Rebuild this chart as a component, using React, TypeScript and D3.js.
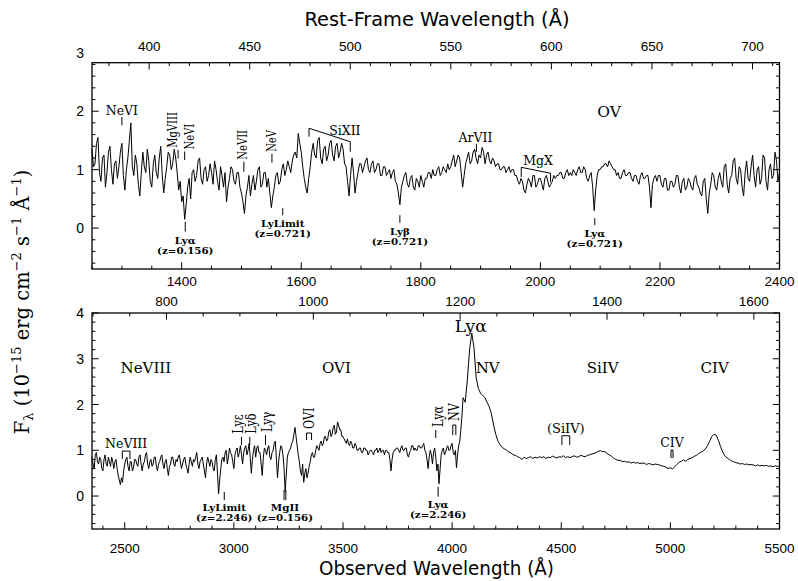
import React from "react";
import * as d3 from "d3";

// ---------- DATA ----------
const TOP_START = 1250;
const TOP_STEP = 2.5;
const topFlux = [
  1.35, 1.05, 1.10, 1.45, 1.55, 0.95, 0.80, 1.20, 1.25, 0.70, 0.95, 1.30, 1.40, 1.00, 0.75, 1.10, 1.15, 0.85, 1.05, 1.30,
  1.45, 0.90, 0.65, 1.00, 1.20, 1.50, 1.80, 1.05, 0.90, 1.25, 1.10, 0.75, 0.55, 0.95, 1.30, 1.05, 0.95, 1.35, 1.15, 0.80,
  0.70, 1.10, 1.25, 0.95, 0.85, 1.20, 1.40, 0.90, 0.60, 0.85, 1.05, 1.30, 1.25, 1.00, 1.10, 1.35, 1.20, 0.95, 0.65, 0.80,
  0.45, 0.55, 0.15, 0.40, 0.70, 0.85, 0.50, 0.95, 1.00, 0.80, 0.90, 1.15, 1.20, 0.85, 0.75, 1.00, 1.05, 0.80, 0.90, 1.10,
  0.95, 0.75, 1.15, 1.00, 0.80, 0.65, 1.05, 0.90, 0.70, 0.95, 0.45, 0.70, 0.85, 1.05, 1.00, 0.80, 0.75, 0.95, 0.95, 0.70,
  0.60, 0.45, 0.25, 0.55, 0.70, 0.90, 0.55, 0.75, 0.90, 0.65, 0.80, 1.00, 1.05, 0.70, 0.75, 0.95, 0.95, 0.70, 0.85, 0.60,
  0.35, 0.55, 0.70, 0.90, 0.95, 0.75, 0.80, 1.00, 1.10, 0.90, 1.00, 1.15, 1.05, 0.95, 1.15, 1.25, 1.30, 1.20, 1.62, 1.45,
  1.30, 1.05, 0.85, 0.70, 0.60, 0.85, 1.05, 1.30, 1.45, 1.25, 1.20, 1.50, 1.55, 1.20, 1.10, 1.35, 1.40, 1.15, 1.25, 1.45,
  1.50, 1.25, 1.15, 1.40, 1.45, 1.20, 1.30, 1.45, 1.35, 1.10, 1.05, 0.80, 0.55, 0.90, 1.20, 0.95, 0.60, 0.80, 0.95, 1.10,
  1.10, 0.95, 1.05, 1.15, 1.20, 1.00, 0.95, 1.10, 1.15, 0.95, 1.00, 1.10, 1.10, 0.90, 0.90, 1.05, 1.05, 0.90, 0.95, 1.00,
  0.85, 0.95, 1.00, 0.80, 0.75, 0.60, 0.40, 0.70, 0.80, 0.90, 0.95, 0.75, 0.70, 0.85, 0.90, 0.70, 0.65, 0.85, 0.80, 0.70,
  0.90, 0.80, 0.70, 0.85, 0.85, 0.95, 0.95, 0.85, 1.00, 0.90, 0.90, 1.00, 1.05, 0.90, 0.95, 1.05, 1.00, 0.95, 1.10, 1.00,
  1.05, 1.15, 1.25, 1.05, 1.15, 1.25, 1.20, 0.95, 0.70, 0.90, 1.10, 1.20, 1.30, 1.10, 1.15, 1.30, 1.35, 1.20, 1.10, 1.25,
  1.20, 1.38, 1.30, 1.10, 1.25, 1.30, 1.15, 1.10, 1.20, 1.15, 1.05, 1.10, 1.10, 1.00, 1.00, 1.05, 1.05, 0.95, 1.00, 1.05,
  0.95, 1.00, 1.00, 0.90, 0.90, 0.80, 0.75, 0.85, 0.80, 0.65, 0.60, 0.75, 0.85, 0.80, 0.70, 0.90, 0.90, 0.70, 0.75, 0.85,
  0.85, 0.75, 0.65, 0.85, 0.90, 0.80, 0.70, 0.75, 0.80, 0.90, 0.85, 0.90, 0.90, 0.95, 0.95, 0.85, 0.85, 0.95, 1.00, 0.90,
  0.95, 0.90, 1.00, 0.95, 0.90, 1.00, 1.05, 0.95, 0.95, 1.05, 1.00, 0.85, 0.80, 0.90, 0.95, 0.70, 0.30, 0.65, 0.90, 1.00,
  1.00, 1.05, 1.05, 1.10, 1.10, 1.05, 1.15, 1.10, 1.05, 1.00, 1.00, 0.90, 0.95, 0.85, 0.85, 0.95, 1.00, 0.90, 0.90, 0.95,
  0.95, 0.85, 0.80, 0.90, 0.90, 0.80, 0.75, 0.90, 0.95, 0.85, 0.85, 0.90, 0.90, 0.70, 0.35, 0.75, 0.85, 0.90, 0.80, 0.90,
  0.90, 0.75, 0.70, 0.85, 0.85, 0.65, 0.65, 0.80, 0.80, 0.70, 0.75, 0.90, 0.90, 0.70, 0.60, 0.80, 0.85, 0.65, 0.70, 0.85,
  0.80, 0.70, 0.65, 0.85, 0.90, 0.75, 0.70, 0.60, 0.55, 0.80, 0.85, 0.50, 0.25, 0.60, 0.75, 0.95, 0.90, 0.70, 0.65, 0.85,
  0.95, 0.80, 0.70, 1.05, 1.10, 0.75, 0.60, 0.85, 0.90, 1.15, 1.20, 0.85, 0.75, 1.05, 1.00, 0.70, 0.55, 0.95, 1.15, 0.85,
  0.80, 1.05, 1.25, 0.90, 0.70, 1.00, 1.05, 0.75, 0.85, 1.25, 1.20, 0.80, 0.65, 1.00, 1.10, 0.85, 0.90, 1.30, 1.15, 0.80,
  0.95,
];

// bottom panel: noisy blue part (5 Å sampling) and smooth red part (10 Å sampling)
const BOT_START = 2350;
const BOT_STEP = 5;
const botFluxBlue = [
  0.85, 0.70, 0.60, 0.90, 0.95, 0.75, 0.70, 0.85, 0.80, 0.60, 0.55, 0.80, 0.90, 0.70, 0.65, 0.85, 0.75, 0.65, 0.85, 0.75,
  0.60, 0.75, 0.80, 0.60, 0.45, 0.35, 0.25, 0.40, 0.30, 0.55, 0.70, 0.80, 0.85, 0.65, 0.55, 0.75, 0.75, 0.55, 0.60, 0.80,
  0.80, 0.70, 0.65, 0.85, 0.90, 0.70, 0.55, 0.70, 0.75, 0.90, 0.95, 0.70, 0.60, 0.75, 0.80, 0.65, 0.70, 0.85, 0.85, 0.65,
  0.55, 0.70, 0.75, 0.85, 0.90, 0.70, 0.60, 0.75, 0.80, 0.60, 0.45, 0.65, 0.70, 0.85, 0.85, 0.70, 0.65, 0.80, 0.75, 0.85,
  0.90, 0.75, 0.60, 0.70, 0.80, 0.85, 0.70, 0.60, 0.50, 0.70, 0.85, 0.75, 0.65, 0.80, 0.75, 0.85, 0.95, 0.70, 0.60, 0.75,
  0.80, 0.85, 0.70, 0.55, 0.40, 0.70, 0.85, 0.75, 0.65, 0.80, 0.75, 0.60, 0.55, 0.80, 0.90, 0.50, 0.05, 0.35, 0.60, 0.80,
  0.85, 0.75, 0.95, 1.00, 0.70, 0.85, 1.05, 0.95, 0.90, 0.75, 0.60, 0.90, 1.00, 1.05, 0.85, 0.95, 1.10, 0.90, 0.70, 0.95,
  1.05, 1.10, 0.90, 1.00, 1.15, 0.85, 0.50, 0.80, 1.00, 1.10, 0.85, 1.05, 1.10, 0.95, 0.95, 0.70, 0.45, 0.85, 1.05, 1.00,
  0.90, 1.05, 1.10, 0.85, 0.80, 0.95, 1.00, 1.15, 1.20, 0.80, 0.40, 0.75, 0.95, 1.10, 1.05, 0.90, 0.60, 0.10, 0.45, 0.85,
  0.95, 1.00, 1.05, 1.15, 1.20, 1.35, 1.50, 1.30, 1.10, 0.90, 0.75, 0.55, 0.45, 0.70, 0.30, 0.50, 0.60, 0.40, 0.50, 0.65,
  0.75, 0.90, 0.95, 0.85, 0.85, 1.00, 1.10, 1.05, 1.00, 1.15, 1.20, 1.10, 1.15, 1.30, 1.30, 1.20, 1.25, 1.40, 1.45, 1.30,
  1.35, 1.50, 1.55, 1.35, 1.40, 1.62, 1.55, 1.45, 1.45, 1.30, 1.30, 1.25, 1.20, 1.15, 1.25, 1.15, 1.10, 1.20, 1.15, 1.05,
  1.05, 1.15, 1.10, 1.00, 1.00, 1.05, 1.05, 0.95, 0.95, 1.05, 1.05, 1.00, 1.00, 0.90, 0.95, 1.00, 1.00, 0.95, 0.90, 1.00,
  1.00, 1.05, 0.95, 1.00, 1.05, 0.95, 1.00, 1.00, 0.90, 1.00, 1.00, 0.95, 0.95, 0.80, 0.55, 0.80, 0.95, 1.00, 1.00, 1.05,
  1.05, 1.00, 0.95, 1.05, 1.10, 1.00, 1.00, 1.05, 1.05, 0.90, 0.85, 0.95, 1.00, 1.10, 1.10, 1.00, 1.05, 1.00, 1.00, 1.10,
  1.10, 1.05, 1.05, 1.10, 1.15, 1.00, 0.95, 0.80, 0.60, 0.85, 1.00, 0.90, 0.70, 0.95, 1.05, 0.85, 0.55, 0.70, 0.27, 0.60,
  0.90, 1.00, 1.05, 0.90, 0.95, 1.05, 1.10, 1.00, 1.00, 1.10, 1.15, 0.95, 0.90, 1.00, 0.62, 0.90, 1.10, 1.20, 1.45, 1.75,
];
const RED_START = 4050;
const RED_STEP = 10;
const botFluxRed = [
  2.15, 2.05, 2.55, 3.20, 3.56, 3.25, 2.60, 2.35, 2.25, 2.20,
  2.15, 2.05, 1.95, 1.80, 1.55, 1.35, 1.20, 1.12, 1.06, 1.03,
  1.00, 0.96, 0.94, 0.90, 0.89, 0.86, 0.84, 0.80, 0.85, 0.82,
  0.84, 0.86, 0.82, 0.85, 0.83, 0.86, 0.84, 0.86, 0.82, 0.85,
  0.84, 0.87, 0.85, 0.83, 0.86, 0.85, 0.88, 0.84, 0.86, 0.84,
  0.86, 0.88, 0.85, 0.86, 0.89, 0.87, 0.86, 0.89, 0.90, 0.92,
  0.93, 0.95, 0.98, 0.99, 0.97, 0.97, 0.93, 0.90, 0.87, 0.83,
  0.80, 0.78, 0.78, 0.75, 0.76, 0.74, 0.75, 0.72, 0.74, 0.72,
  0.73, 0.71, 0.72, 0.72, 0.69, 0.71, 0.70, 0.68, 0.70, 0.69,
  0.68, 0.66, 0.65, 0.63, 0.60, 0.62, 0.59, 0.64, 0.69, 0.74,
  0.76, 0.79, 0.76, 0.80, 0.82, 0.84, 0.87, 0.89, 0.93, 0.96,
  0.98, 1.03, 1.10, 1.20, 1.30, 1.35, 1.33, 1.22, 1.08, 0.96,
  0.88, 0.83, 0.80, 0.77, 0.75, 0.73, 0.72, 0.70, 0.71, 0.69,
  0.70, 0.68, 0.69, 0.68, 0.66, 0.68, 0.66, 0.67, 0.66, 0.67,
  0.65, 0.66, 0.64, 0.66, 0.65, 0.65,
];

const ONE_PLUS_Z = 3.364;

const topObsLabels = [1400, 1600, 1800, 2000, 2200, 2400];
const topRestLabels = [400, 450, 500, 550, 600, 650, 700];
const botObsLabels = [2500, 3000, 3500, 4000, 4500, 5000, 5500];
const botRestLabels = [800, 1000, 1200, 1400, 1600];
const topYLabels = [0, 1, 2, 3];
const botYLabels = [0, 1, 2, 3, 4];

// line identifications (observed wavelength Å, flux levels)
const topAbove = [
  { t: "NeVI", w: 1300, f0: 1.76, f1: 1.9, rot: false, dx: 0 },
  { t: "MgVIII", w: 1394, f0: 1.19, f1: 1.34, rot: true, dx: -5 },
  { t: "NeVI", w: 1405, f0: 1.165, f1: 1.31, rot: true, dx: 5 },
  { t: "NeVII", w: 1504, f0: 0.965, f1: 1.136, rot: true, dx: -1 },
  { t: "NeV", w: 1551, f0: 1.12, f1: 1.27, rot: true, dx: 0 },
  { t: "ArVII", w: 1893, f0: 1.3, f1: 1.44, rot: false, dx: -1 },
];
const topBelow = [
  { l1: "Lyα", l2: "(z=0.156)", w: 1406, f0: 0.11, f1: -0.06 },
  { l1: "LyLimit", l2: "(z=0.721)", w: 1569, f0: 0.34, f1: 0.22 },
  { l1: "Lyβ", l2: "(z=0.721)", w: 1765, f0: 0.22, f1: 0.09 },
  { l1: "Lyα", l2: "(z=0.721)", w: 2091, f0: 0.17, f1: 0.05 },
];
const topSlanted = [
  { t: "SiXII", pts: [[1613, 1.564], [1613, 1.708], [1682, 1.478], [1682, 1.307]], tw: 1673, tf: 1.593 },
  { t: "MgX", pts: [[1968, 0.874], [1968, 1.04], [2017, 0.938], [2017, 0.789]], tw: 1996, tf: 1.08 },
];
const topBig = [{ t: "OV", w: 2115, f: 1.9 }];

const botAbove = [
  { t: "Lyε", w: 3035, f0: 1.115, f1: 1.296, dx: -3 },
  { t: "Lyδ", w: 3073, f0: 1.115, f1: 1.296, dx: 1.5 },
  { t: "Lyγ", w: 3145, f0: 1.115, f1: 1.333, dx: 1.5 },
  { t: "Lyα", w: 3925, f0: 1.267, f1: 1.442, dx: 2 },
];
const botBrackets = [
  { t: "NeVIII", w0: 2489, w1: 2524, f0: 0.809, f1: 0.983, rot: false },
  { t: "OVI", w0: 3333, w1: 3356, f0: 1.224, f1: 1.377, rot: true },
  { t: "NV", w0: 4003, w1: 4017, f0: 1.333, f1: 1.552, rot: true },
  { t: "(SiIV)", w0: 4503, w1: 4539, f0: 1.115, f1: 1.318, rot: false },
  { t: "CIV", w0: 5003, w1: 5012, f0: 0.83, f1: 1.005, rot: false },
];
const botBelow = [
  { l1: "LyLimit", l2: "(z=2.246)", w: 2956, f0: 0.09, f1: -0.09, dbl: false },
  { l1: "MgII", l2: "(z=0.156)", w: 3234, f0: 0.13, f1: -0.09, dbl: true },
  { l1: "Lyα", l2: "(z=2.246)", w: 3936, f0: 0.2, f1: -0.015, dbl: false },
];
const botBig = [
  { t: "NeVIII", w: 2597, f: 2.688 },
  { t: "OVI", w: 3470, f: 2.688 },
  { t: "NV", w: 4163, f: 2.688 },
  { t: "SiIV", w: 4690, f: 2.688 },
  { t: "CIV", w: 5203, f: 2.688 },
  { t: "Lyα", w: 4085, f: 3.584 },
];

// ---------- STYLE ----------
const SERIF = "'DejaVu Serif', serif";
const SANS = "'Liberation Sans', Arial, sans-serif";
const COND = "'DejaVu Sans Condensed', 'DejaVu Sans', sans-serif";
const SQ = 0.8;

function panelAxes(
  key: string,
  xs: any,
  ys: any,
  obsMinor: number,
  obsMajor: number,
  restMinor: number,
  restMajor: number,
  obsLabels: number[],
  restLabels: number[],
  yLabels: number[],
  obsLabelY: number,
  restLabelY: number
) {
  const [x0, x1] = xs.domain();
  const [yl, yh] = ys.domain();
  const [yb, yt] = ys.range();
  const [xl, xr] = xs.range();
  const out: any[] = [];
  const LM = 6.7, Lm = 3.4;
  const isMul = (v: number, s: number) => Math.abs(v / s - Math.round(v / s)) < 1e-6;
  d3.range(Math.ceil(x0 / obsMinor) * obsMinor, x1 + 1e-6, obsMinor).forEach((v, i) => {
    const L = isMul(v, obsMajor) ? LM : Lm;
    const x = xs(v);
    out.push(<line key={`${key}ob${i}`} x1={x} x2={x} y1={yb} y2={yb - L} stroke="#000" strokeWidth={1} />);
  });
  const r0 = x0 / ONE_PLUS_Z, r1 = x1 / ONE_PLUS_Z;
  d3.range(Math.ceil(r0 / restMinor) * restMinor, r1 + 1e-6, restMinor).forEach((v, i) => {
    const L = isMul(v, restMajor) ? LM : Lm;
    const x = xs(v * ONE_PLUS_Z);
    out.push(<line key={`${key}rt${i}`} x1={x} x2={x} y1={yt} y2={yt + L} stroke="#000" strokeWidth={1} />);
  });
  for (let k = Math.ceil(yl * 5); k <= Math.floor(yh * 5 + 1e-6); k++) {
    const v = k / 5;
    const L = k % 5 === 0 ? LM : Lm;
    const y = ys(v);
    out.push(<line key={`${key}yl${k}`} x1={xl} x2={xl + L} y1={y} y2={y} stroke="#000" strokeWidth={1} />);
    out.push(<line key={`${key}yr${k}`} x1={xr} x2={xr - L} y1={y} y2={y} stroke="#000" strokeWidth={1} />);
  }
  out.push(
    <rect key={`${key}frame`} x={xl} y={yt} width={xr - xl} height={yb - yt} fill="none" stroke="#000" strokeWidth={1.3} />
  );
  obsLabels.forEach((v) =>
    out.push(
      <text key={`${key}obl${v}`} x={xs(v)} y={obsLabelY} textAnchor="middle" fontFamily={SANS} fontSize={13.5}>
        {v}
      </text>
    )
  );
  restLabels.forEach((v) =>
    out.push(
      <text key={`${key}rl${v}`} x={xs(v * ONE_PLUS_Z)} y={restLabelY} textAnchor="middle" fontFamily={SANS} fontSize={13.5}>
        {v}
      </text>
    )
  );
  yLabels.forEach((v) =>
    out.push(
      <text key={`${key}yv${v}`} x={84} y={ys(v)} dy="0.36em" textAnchor="end" fontFamily={SANS} fontSize={14}>
        {v}
      </text>
    )
  );
  return out;
}

function rotText(key: string, t: string, x: number, y: number, size: number) {
  return (
    <text
      key={key}
      transform={`translate(${x},${y}) scale(1,${SQ}) rotate(-90)`}
      textAnchor="start"
      dominantBaseline="central"
      fontFamily={SERIF}
      fontSize={size}
    >
      {t}
    </text>
  );
}

function smallBold(key: string, t: string, x: number, y: number) {
  return (
    <text
      key={key}
      transform={`translate(${x},${y}) scale(1,0.85)`}
      textAnchor="middle"
      fontFamily={SERIF}
      fontWeight="bold"
      fontSize={10.3}
    >
      {t}
    </text>
  );
}

export default function App() {
  const W = 798, H = 581;
  const xT = d3.scaleLinear().domain([1250, 2400]).range([92, 779.5]);
  const yT = d3.scaleLinear().domain([-0.7, 2.83]).range([269, 62.7]);
  const xB = d3.scaleLinear().domain([2350, 5500]).range([92, 779.5]);
  const yB = d3.scaleLinear().domain([-0.72, 4]).range([529, 313]);

  const topPts: [number, number][] = topFlux.map((f, i) => [TOP_START + i * TOP_STEP, f]);
  const botPts: [number, number][] = [
    ...botFluxBlue.map((f, i) => [BOT_START + i * BOT_STEP, f] as [number, number]),
    ...botFluxRed.map((f, i) => [RED_START + i * RED_STEP, f] as [number, number]),
  ];
  const topPath = d3
    .line<[number, number]>()
    .x((p) => xT(p[0]))
    .y((p) => yT(p[1]))(topPts) as string;
  const botPath = d3
    .line<[number, number]>()
    .x((p) => xB(p[0]))
    .y((p) => yB(p[1]))(botPts) as string;

  const ann: any[] = [];
  topAbove.forEach((a, i) => {
    const x = xT(a.w);
    ann.push(<line key={`ta${i}`} x1={x} x2={x} y1={yT(a.f0)} y2={yT(a.f1)} stroke="#000" strokeWidth={1} />);
    if (a.rot) ann.push(rotText(`tat${i}`, a.t, x + a.dx, yT(a.f1) - 2, 12.5));
    else
      ann.push(
        <text key={`tat${i}`} x={x + a.dx} y={yT(a.f1) - 2} textAnchor="middle" fontFamily={SERIF} fontSize={12.5}>
          {a.t}
        </text>
      );
  });
  topBelow.forEach((a, i) => {
    const x = xT(a.w);
    const yb = yT(a.f1);
    ann.push(<line key={`tb${i}`} x1={x} x2={x} y1={yT(a.f0)} y2={yb} stroke="#000" strokeWidth={1} />);
    ann.push(smallBold(`tb1${i}`, a.l1, x, yb + 12));
    ann.push(smallBold(`tb2${i}`, a.l2, x, yb + 22));
  });
  topSlanted.forEach((a, i) => {
    const d = d3.line<number[]>().x((p) => xT(p[0])).y((p) => yT(p[1]))(a.pts) as string;
    ann.push(<path key={`ts${i}`} d={d} fill="none" stroke="#000" strokeWidth={1} />);
    ann.push(
      <text key={`tst${i}`} x={xT(a.tw)} y={yT(a.tf)} textAnchor="middle" fontFamily={SERIF} fontSize={12.5}>
        {a.t}
      </text>
    );
  });
  topBig.forEach((a, i) =>
    ann.push(
      <text key={`tg${i}`} x={xT(a.w)} y={yT(a.f)} textAnchor="middle" fontFamily={SERIF} fontSize={15.5}>
        {a.t}
      </text>
    )
  );
  botAbove.forEach((a, i) => {
    const x = xB(a.w);
    ann.push(<line key={`ba${i}`} x1={x} x2={x} y1={yB(a.f0)} y2={yB(a.f1)} stroke="#000" strokeWidth={1} />);
    ann.push(rotText(`bat${i}`, a.t, x + a.dx, yB(a.f1) - 3, 14));
  });
  botBrackets.forEach((a, i) => {
    const x0 = xB(a.w0), x1 = xB(a.w1);
    const y0 = yB(a.f0), y1 = yB(a.f1);
    ann.push(<path key={`bk${i}`} d={`M${x0},${y0}V${y1}H${x1}V${y0}`} fill="none" stroke="#000" strokeWidth={1} />);
    const cx = (x0 + x1) / 2;
    if (a.rot) ann.push(rotText(`bkt${i}`, a.t, cx, y1 - 4, 14));
    else
      ann.push(
        <text key={`bkt${i}`} x={cx} y={y1 - 3} textAnchor="middle" fontFamily={SERIF} fontSize={a.t === "(SiIV)" ? 13 : 12.5}>
          {a.t}
        </text>
      );
  });
  botBelow.forEach((a, i) => {
    const x = xB(a.w);
    const yb = yB(a.f1);
    if (a.dbl) {
      ann.push(<line key={`bbl${i}`} x1={x - 0.9} x2={x - 0.9} y1={yB(a.f0)} y2={yb} stroke="#000" strokeWidth={1} />);
      ann.push(<line key={`bbr${i}`} x1={x + 0.9} x2={x + 0.9} y1={yB(a.f0)} y2={yb} stroke="#000" strokeWidth={1} />);
    } else ann.push(<line key={`bb${i}`} x1={x} x2={x} y1={yB(a.f0)} y2={yb} stroke="#000" strokeWidth={1} />);
    ann.push(smallBold(`bb1${i}`, a.l1, x, yb + 11));
    ann.push(smallBold(`bb2${i}`, a.l2, x, yb + 21));
  });
  botBig.forEach((a, i) =>
    ann.push(
      <text key={`bg${i}`} x={xB(a.w)} y={yB(a.f)} textAnchor="middle" fontFamily={SERIF} fontSize={a.t === "Lyα" ? 17 : 15}>
        {a.t}
      </text>
    )
  );

  return (
    <svg width={W} height={H} style={{ position: "absolute", left: 0, top: 0, display: "block" }}>
      <rect x={0} y={0} width={W} height={H} fill="#fff" />
      {panelAxes("t", xT, yT, 50, 200, 10, 50, topObsLabels, topRestLabels, topYLabels, 285.5, 51)}
      {panelAxes("b", xB, yB, 100, 500, 50, 200, botObsLabels, botRestLabels, botYLabels, 553, 306)}
      <path d={topPath} fill="none" stroke="#000" strokeWidth={1} strokeLinejoin="round" />
      <path d={botPath} fill="none" stroke="#000" strokeWidth={1} strokeLinejoin="round" />
      {ann}
      <text x={437} y={26} textAnchor="middle" fontFamily={COND} fontSize={19} textLength={265} lengthAdjust="spacingAndGlyphs">
        Rest-Frame Wavelength (Å)
      </text>
      <text x={436.5} y={575} textAnchor="middle" fontFamily={COND} fontSize={19} textLength={235} lengthAdjust="spacingAndGlyphs">
        Observed Wavelength (Å)
      </text>
      <text
        transform="translate(29,302) rotate(-90)"
        textAnchor="middle"
        fontFamily={SERIF}
        fontSize={19.5}
      >
        F<tspan dy={4} fontSize={13}>λ</tspan>
        <tspan dy={-4}>{" (10"}</tspan>
        <tspan dy={-8} fontSize={13}>−15</tspan>
        <tspan dy={8}>{" erg cm"}</tspan>
        <tspan dy={-8} fontSize={13}>−2</tspan>
        <tspan dy={8}>{" s"}</tspan>
        <tspan dy={-8} fontSize={13}>−1</tspan>
        <tspan dy={8}>{" Å"}</tspan>
        <tspan dy={-8} fontSize={13}>−1</tspan>
        <tspan dy={8}>{")"}</tspan>
      </text>
    </svg>
  );
}
